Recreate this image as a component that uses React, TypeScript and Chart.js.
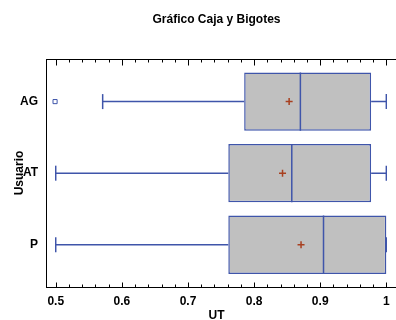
import { useEffect, useRef } from "react";
import { Chart, registerables } from "chart.js";

Chart.register(...registerables);

// ---- data ----
const categories = ["AG", "AT", "P"];
const categoryPos = [1, 2, 3];
const whiskerLow = [0.571, 0.5, 0.5];
const q1 = [0.785, 0.761, 0.761];
const median = [0.87, 0.857, 0.905];
const q3 = [0.977, 0.977, 1.0];
const whiskerHigh = [1.0, 1.0, 1.0];
const means = [0.853, 0.843, 0.871];
const outlierCategory = ["AG"];
const outlierValue = [0.499];

const xMin = 0.4853;
const xMax = 1.001;
const yMin = 0.405;
const yMax = 3.59;

const BLUE = "#3F55AA";
const MEAN = "#A84020";
const FONT = "'Liberation Sans', Arial, sans-serif";
const BOX_PCT = 0.815;

// draws the frame ticks (inward) of the x scales from the scales' own ticks
const axisFramePlugin = {
  id: "axisFrame",
  afterDraw(chart: any) {
    const ctx: CanvasRenderingContext2D = chart.ctx;
    const ca = chart.chartArea;
    const major = chart.scales.x;
    const minor = chart.scales.xMinor;
    if (!major || !minor) return;
    ctx.save();
    ctx.setTransform(1, 0, 0, 1, 0, 0);
    ctx.globalAlpha = 1;
    ctx.globalCompositeOperation = "source-over";
    ctx.setLineDash([]);
    ctx.strokeStyle = "#000";
    ctx.lineWidth = 1;
    const top = Math.round(ca.top) + 0.5;
    const bottom = Math.round(ca.bottom) + 0.5;
    ctx.beginPath();
    ctx.moveTo(Math.round(ca.left), top);
    ctx.lineTo(chart.width, top);
    ctx.moveTo(Math.round(ca.right) - 1, bottom);
    ctx.lineTo(chart.width, bottom);
    const mark = (scale: any, lenTop: number, lenBottom: number) => {
      scale.ticks.forEach((t: any) => {
        const px = Math.round(scale.getPixelForValue(t.value)) + 0.5;
        ctx.moveTo(px, top);
        ctx.lineTo(px, top + lenTop);
        ctx.moveTo(px, bottom);
        ctx.lineTo(px, bottom - lenBottom);
      });
    };
    mark(minor, 3, 3);
    mark(major, 6, 5);
    ctx.stroke();
    ctx.restore();
  },
};

export default function App() {
  const ref = useRef<HTMLCanvasElement | null>(null);

  useEffect(() => {
    if (!ref.current) return;
    const half = BOX_PCT / 2;
    const boxData = categories.map((_, i) => ({ x: [q1[i], q3[i]], y: categoryPos[i] }));
    const medianData = categories.flatMap((_, i) => [
      { x: median[i], y: categoryPos[i] - half },
      { x: median[i], y: categoryPos[i] + half },
      { x: null, y: null },
    ]);
    const whiskerData = categories.flatMap((_, i) => [
      { x: whiskerLow[i], y: categoryPos[i] },
      { x: q1[i], y: categoryPos[i] },
      { x: null, y: null },
      { x: q3[i], y: categoryPos[i] },
      { x: whiskerHigh[i], y: categoryPos[i] },
      { x: null, y: null },
    ]);
    const capData = categories.flatMap((_, i) => [
      { x: whiskerLow[i], y: categoryPos[i] },
      { x: whiskerHigh[i], y: categoryPos[i] },
    ]);
    const meanData = categories.map((_, i) => ({ x: means[i], y: categoryPos[i] }));
    const outlierData = outlierCategory.map((c, k) => ({
      x: outlierValue[k],
      y: categoryPos[categories.indexOf(c)],
    }));

    const tickFont = () => ({ family: FONT, size: 12, weight: "bold" as const });

    const xBase = (height: number, extra: any) => ({
      type: "linear",
      axis: "x",
      min: xMin,
      max: xMax,
      offset: false,
      afterFit: (s: any) => {
        s.height = height;
        s.paddingLeft = 0;
        s.paddingRight = 0;
      },
      ...extra,
    });

    const chart = new Chart(ref.current, {
      type: "scatter",
      data: {
        datasets: [
          {
            type: "scatter",
            data: meanData,
            xAxisID: "x",
            yAxisID: "y",
            pointStyle: "cross",
            pointRadius: 3.5,
            borderColor: MEAN,
            borderWidth: 1.5,
            order: 1,
          },
          {
            type: "scatter",
            data: outlierData,
            xAxisID: "x",
            yAxisID: "y",
            pointStyle: "rect",
            pointRadius: 2.9,
            backgroundColor: "#ffffff",
            borderColor: BLUE,
            borderWidth: 1,
            order: 1,
          },
          {
            type: "scatter",
            data: capData,
            xAxisID: "x",
            yAxisID: "y",
            pointStyle: "line",
            rotation: 90,
            pointRadius: 7.5,
            borderColor: BLUE,
            borderWidth: 1.5,
            order: 2,
          },
          {
            type: "line",
            data: medianData,
            xAxisID: "x",
            yAxisID: "y",
            borderColor: BLUE,
            borderWidth: 1.5,
            pointRadius: 0,
            spanGaps: false,
            fill: false,
            order: 3,
          },
          {
            type: "line",
            data: whiskerData,
            xAxisID: "x",
            yAxisID: "y",
            borderColor: BLUE,
            borderWidth: 1.5,
            pointRadius: 0,
            spanGaps: false,
            fill: false,
            order: 4,
          },
          {
            type: "bar",
            indexAxis: "y",
            data: boxData,
            xAxisID: "x",
            yAxisID: "y",
            backgroundColor: "#C0C0C0",
            borderColor: BLUE,
            borderWidth: 1.5,
            borderSkipped: false,
            categoryPercentage: 1,
            barPercentage: BOX_PCT,
            order: 5,
          },
        ],
      },
      options: {
        responsive: false,
        animation: false,
        layout: { padding: { left: 0, right: 0, top: 0, bottom: -3 } },
        plugins: {
          legend: { display: false },
          tooltip: { enabled: false },
          title: {
            display: true,
            fullSize: false,
            text: "Gráfico Caja y Bigotes",
            color: "#000",
            font: { family: FONT, size: 12, weight: "bold" },
            padding: { top: 12, bottom: 0 },
          },
        },
        scales: {
          x: xBase(36, {
            position: "bottom",
            weight: 1,
            grid: { drawOnChartArea: false, tickLength: -5, tickColor: "rgba(0,0,0,0)" },
            border: { display: true, color: "#000" },
            ticks: {
              stepSize: 0.1,
              includeBounds: false,
              autoSkip: false,
              maxRotation: 0,
              padding: 12,
              color: "#000",
              font: tickFont(),
              callback: (v: any) => String(Math.round(Number(v) * 10) / 10),
            },
            title: {
              display: true,
              text: "UT",
              color: "#000",
              font: tickFont(),
              padding: { top: 0, bottom: 0 },
            },
          }),
          xMinor: xBase(0, {
            position: "bottom",
            weight: 0,
            grid: { display: false },
            border: { display: false },
            ticks: { stepSize: 0.02, includeBounds: false, autoSkip: false, display: false },
          }),
          xTop: xBase(32.6, {
            position: "top",
            weight: 1,
            grid: { display: false },
            border: { display: false },
            ticks: { stepSize: 0.1, includeBounds: false, autoSkip: false, display: false },
          }),
          y: {
            type: "linear",
            axis: "y",
            position: "left",
            min: yMin,
            max: yMax,
            reverse: true,
            offset: false,
            afterFit: (s: any) => {
              s.width = 46;
              s.paddingTop = 0;
              s.paddingBottom = 0;
            },
            grid: { drawOnChartArea: false, drawTicks: false, offset: false },
            border: { display: true, color: "#000" },
            ticks: {
              stepSize: 1,
              includeBounds: false,
              autoSkip: false,
              padding: 8,
              color: "#000",
              font: tickFont(),
              callback: (v: any) => {
                const i = categoryPos.indexOf(Number(v));
                return i >= 0 ? categories[i] : "";
              },
            },
            title: {
              display: true,
              text: "Usuario",
              color: "#000",
              font: tickFont(),
              padding: { top: 12.5, bottom: 0 },
            },
          },
        },
      } as any,
      plugins: [axisFramePlugin],
    } as any);

    return () => chart.destroy();
  }, []);

  return (
    <div style={{ position: "absolute", left: 0, top: 0, width: 396, height: 320 }}>
      <canvas ref={ref} width={396} height={320} style={{ display: "block" }} />
    </div>
  );
}
